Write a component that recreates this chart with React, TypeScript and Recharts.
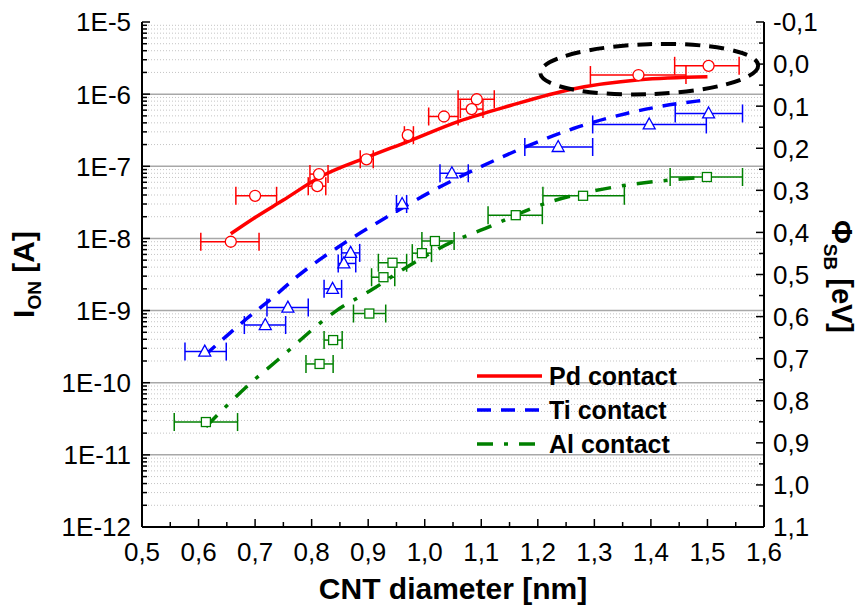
import { ComposedChart, Line, Scatter, ErrorBar, XAxis, YAxis, ReferenceLine, ReferenceDot, Legend, Label } from 'recharts';

const FONT = '"Liberation Sans", Arial, Helvetica, sans-serif';
const RED = '#ff0000';
const BLUE = '#0000ff';
const GREEN = '#008000';

// Pd contacts: CNT diameter [nm], on-current [A], diameter spread (min / max)
const pdDiameter = [0.657, 0.700, 0.810, 0.813, 0.897, 0.970, 1.034, 1.083, 1.092, 1.378, 1.502];
const pdCurrent = [9.0e-9, 3.9e-8, 5.3e-8, 7.8e-8, 1.25e-7, 2.7e-7, 4.9e-7, 6.2e-7, 8.5e-7, 1.84e-6, 2.47e-6];
const pdDMin = [0.604, 0.666, 0.794, 0.797, 0.886, 0.964, 1.007, 1.063, 1.059, 1.293, 1.442];
const pdDMax = [0.707, 0.738, 0.825, 0.829, 0.909, 0.980, 1.059, 1.103, 1.123, 1.462, 1.556];

// Ti contacts
const tiDiameter = [0.611, 0.718, 0.758, 0.837, 0.857, 0.869, 0.960, 1.048, 1.236, 1.397, 1.502];
const tiCurrent = [2.7e-10, 6.3e-10, 1.1e-9, 2.0e-9, 4.5e-9, 6.3e-9, 3.0e-8, 8.0e-8, 1.85e-7, 3.8e-7, 5.4e-7];
const tiDMin = [0.576, 0.681, 0.721, 0.822, 0.847, 0.853, 0.950, 1.027, 1.177, 1.297, 1.443];
const tiDMax = [0.649, 0.754, 0.794, 0.853, 0.878, 0.885, 0.968, 1.077, 1.297, 1.498, 1.562];

// Al contacts
const alDiameter = [0.613, 0.814, 0.838, 0.902, 0.927, 0.943, 0.995, 1.018, 1.161, 1.280, 1.499];
const alCurrent = [2.85e-11, 1.82e-10, 3.9e-10, 9.1e-10, 2.9e-9, 4.6e-9, 6.25e-9, 9.2e-9, 2.1e-8, 3.9e-8, 7.1e-8];
const alDMin = [0.557, 0.790, 0.822, 0.874, 0.906, 0.918, 0.978, 0.995, 1.112, 1.209, 1.434];
const alDMax = [0.669, 0.838, 0.854, 0.931, 0.947, 0.968, 1.012, 1.052, 1.208, 1.353, 1.562];

// fitted curves
const pdFitD = [0.657, 0.700, 0.750, 0.815, 0.900, 0.970, 1.060, 1.150, 1.260, 1.380, 1.500];
const pdFitI = [1.16e-8, 1.95e-8, 3.4e-8, 7.1e-8, 1.35e-7, 2.2e-7, 4.2e-7, 6.9e-7, 1.17e-6, 1.58e-6, 1.74e-6];
const tiFitD = [0.611, 0.685, 0.732, 0.773, 0.874, 0.933, 1.021, 1.086, 1.174, 1.263, 1.357, 1.481, 1.500];
const tiFitI = [2.4e-10, 7.7e-10, 1.53e-9, 2.9e-9, 1.04e-8, 1.98e-8, 4.9e-8, 8.8e-8, 1.8e-7, 3.34e-7, 5.4e-7, 8.0e-7, 8.3e-7];
const alFitD = [0.613, 0.697, 0.738, 0.844, 0.909, 0.968, 1.057, 1.098, 1.221, 1.351, 1.440, 1.520];
const alFitI = [2.45e-11, 1.07e-10, 2.0e-10, 1.0e-9, 2.0e-9, 4.0e-9, 9.6e-9, 1.29e-8, 3.2e-8, 5.4e-8, 6.5e-8, 7.2e-8];

// axis ticks
const dMajor = [0.5, 0.6, 0.7, 0.8, 0.9, 1.0, 1.1, 1.2, 1.3, 1.4, 1.5, 1.6];
const dMinor = [0.55, 0.65, 0.75, 0.85, 0.95, 1.05, 1.15, 1.25, 1.35, 1.45, 1.55];
const decades = [1e-12, 1e-11, 1e-10, 1e-9, 1e-8, 1e-7, 1e-6, 1e-5];
const mantissas = [2, 3, 4, 5, 6, 7, 8, 9];
const phiMajor = [-0.1, 0, 0.1, 0.2, 0.3, 0.4, 0.5, 0.6, 0.7, 0.8, 0.9, 1.0, 1.1];
const phiMinor = [-0.05, 0.05, 0.15, 0.25, 0.35, 0.45, 0.55, 0.65, 0.75, 0.85, 0.95, 1.05];

// highlighted region around the largest diameters
const ringCenterD = 1.397;
const ringCenterI = 2.22e-6;

const legendItems = [
  { name: 'Pd contact', color: RED, dash: undefined },
  { name: 'Ti contact', color: BLUE, dash: '14 10' },
  { name: 'Al contact', color: GREEN, dash: '16 11 4 11' },
];

const toPoints = (d: number[], i: number[], lo: number[], hi: number[]) =>
  d.map((x, k) => ({ d: x, i: i[k], dErr: [x - lo[k], hi[k] - x] }));
const toCurve = (d: number[], i: number[]) => d.map((x, k) => ({ d: x, i: i[k] }));

const pdPoints = toPoints(pdDiameter, pdCurrent, pdDMin, pdDMax);
const tiPoints = toPoints(tiDiameter, tiCurrent, tiDMin, tiDMax);
const alPoints = toPoints(alDiameter, alCurrent, alDMin, alDMax);
const pdFit = toCurve(pdFitD, pdFitI);
const tiFit = toCurve(tiFitD, tiFitI);
const alFit = toCurve(alFitD, alFitI);

const logMinor = decades.slice(0, -1).flatMap((p) => mantissas.map((m) => m * p));
const logTicks = [...decades, ...logMinor];
const dTicks = [...dMajor, ...dMinor];
const phiTicks = [...phiMajor, ...phiMinor];

const comma = (v: number) => v.toFixed(1).replace('.', ',');
const isDecade = (v: number) => Math.abs(Math.log10(v) - Math.round(Math.log10(v))) < 1e-6;

const MAJOR = 8;
const MINOR = 5;

const BottomTick = (props: any) => {
  const { x, y, payload } = props;
  const v = payload.value;
  const major = dMajor.includes(v);
  const axisY = y - 16;
  return (
    <g>
      <line x1={x} x2={x} y1={axisY} y2={axisY - (major ? MAJOR : MINOR)} stroke="#000" strokeWidth={1.5} />
      {major && (
        <text x={x} y={y} dy="0.71em" textAnchor="middle" fontSize={26} fontFamily={FONT} fill="#000">
          {comma(v)}
        </text>
      )}
    </g>
  );
};

const TopTick = (props: any) => {
  const { x, y, payload } = props;
  const major = dMajor.includes(payload.value);
  return <line x1={x} x2={x} y1={y} y2={y + (major ? MAJOR : MINOR)} stroke="#000" strokeWidth={1.5} />;
};

const LeftTick = (props: any) => {
  const { x, y, payload } = props;
  const v = payload.value;
  const major = isDecade(v);
  const axisX = x + 11;
  return (
    <g>
      <line x1={axisX} x2={axisX + (major ? MAJOR : MINOR)} y1={y} y2={y} stroke="#000" strokeWidth={1.5} />
      {major && (
        <text x={x} y={y} dy="0.36em" textAnchor="end" fontSize={26} fontFamily={FONT} fill="#000">
          {`1E${Math.round(Math.log10(v))}`}
        </text>
      )}
    </g>
  );
};

const RightTick = (props: any) => {
  const { x, y, payload } = props;
  const v = payload.value;
  const major = phiMajor.includes(v);
  const axisX = x - 9;
  return (
    <g>
      <line x1={axisX} x2={axisX - (major ? MAJOR : MINOR)} y1={y} y2={y} stroke="#000" strokeWidth={1.5} />
      {major && (
        <text x={x} y={y} dy="0.36em" textAnchor="start" fontSize={26} fontFamily={FONT} fill="#000">
          {comma(v)}
        </text>
      )}
    </g>
  );
};

const circleShape = (color: string) => (p: any) => (
  <circle cx={p.cx} cy={p.cy} r={5.5} fill="#fff" stroke={color} strokeWidth={1.3} />
);
const triangleShape = (color: string) => (p: any) => (
  <path
    d={`M${p.cx},${p.cy - 6.5} L${p.cx + 6},${p.cy + 4.5} L${p.cx - 6},${p.cy + 4.5} Z`}
    fill="#fff"
    stroke={color}
    strokeWidth={1.3}
  />
);
const squareShape = (color: string) => (p: any) => (
  <rect x={p.cx - 4.5} y={p.cy - 4.5} width={9} height={9} fill="#fff" stroke={color} strokeWidth={1.3} />
);

const Ring = (p: any) => (
  <ellipse
    cx={p.cx}
    cy={p.cy}
    rx={109}
    ry={25}
    transform={`rotate(-2 ${p.cx} ${p.cy})`}
    fill="none"
    stroke="#000"
    strokeWidth={4}
    strokeDasharray="15 9"
  />
);

const LegendBox = () => (
  <div style={{ fontFamily: FONT, fontWeight: 'bold', fontSize: 25, color: '#000' }}>
    {legendItems.map((it) => (
      <div key={it.name} style={{ display: 'flex', alignItems: 'center', height: 34 }}>
        <svg width={66} height={8} style={{ marginRight: 6 }}>
          <line x1={0} x2={65} y1={4} y2={4} stroke={it.color} strokeWidth={3.5} strokeDasharray={it.dash} />
        </svg>
        <span>{it.name}</span>
      </div>
    ))}
  </div>
);

const YLeftTitle = (props: any) => {
  const { viewBox } = props;
  const cy = viewBox.y + viewBox.height / 2;
  const cx = 34;
  return (
    <text
      x={cx}
      y={cy}
      transform={`rotate(-90 ${cx} ${cy})`}
      textAnchor="middle"
      fontFamily={FONT}
      fontWeight="bold"
      fontSize={30}
      fill="#000"
    >
      I
      <tspan fontSize={19} dy={7}>ON</tspan>
      <tspan dy={-7}> [A]</tspan>
    </text>
  );
};

const YRightTitle = (props: any) => {
  const { viewBox } = props;
  const cy = viewBox.y + viewBox.height / 2 + 2;
  const cx = viewBox.x + 68;
  return (
    <text
      x={cx}
      y={cy}
      transform={`rotate(90 ${cx} ${cy})`}
      textAnchor="middle"
      fontFamily={FONT}
      fontWeight="bold"
      fontSize={29}
      fill="#000"
    >
      Φ
      <tspan fontSize={19} dy={8}>SB</tspan>
      <tspan dy={-8}> [eV]</tspan>
    </text>
  );
};

const XTitle = (props: any) => {
  const { viewBox } = props;
  return (
    <text
      x={viewBox.x + viewBox.width / 2}
      y={viewBox.y + 72}
      textAnchor="middle"
      fontFamily={FONT}
      fontWeight="bold"
      fontSize={30}
      fill="#000"
    >
      CNT diameter [nm]
    </text>
  );
};

export default function App() {
  return (
    <div style={{ position: 'absolute', left: 0, top: 0, background: '#fff', fontFamily: FONT }}>
      <ComposedChart width={861} height={610} margin={{ top: 22, right: 0, bottom: 0, left: 0 }}>
        <XAxis
          dataKey="d"
          type="number"
          domain={[0.5, 1.6]}
          allowDataOverflow
          ticks={dTicks}
          interval={0}
          height={83}
          tickSize={0}
          tickMargin={16}
          tickLine={false}
          tick={BottomTick}
          axisLine={{ stroke: '#000', strokeWidth: 2 }}
        >
          <Label content={XTitle} />
        </XAxis>
        <XAxis
          xAxisId="top"
          orientation="top"
          type="number"
          domain={[0.5, 1.6]}
          allowDataOverflow
          ticks={dTicks}
          interval={0}
          height={0}
          tickSize={0}
          tickMargin={0}
          tickLine={false}
          tick={TopTick}
          axisLine={{ stroke: '#000', strokeWidth: 2 }}
        />
        <YAxis
          yAxisId="left"
          dataKey="i"
          scale="log"
          type="number"
          domain={[1e-12, 1e-5]}
          allowDataOverflow
          ticks={logTicks}
          interval={0}
          width={142}
          tickSize={0}
          tickMargin={11}
          tickLine={false}
          tick={LeftTick}
          axisLine={{ stroke: '#000', strokeWidth: 2 }}
        >
          <Label content={YLeftTitle} />
        </YAxis>
        <YAxis
          yAxisId="right"
          orientation="right"
          type="number"
          domain={[-0.1, 1.1]}
          reversed
          allowDataOverflow
          ticks={phiTicks}
          interval={0}
          width={97}
          tickSize={0}
          tickMargin={9}
          tickLine={false}
          tick={RightTick}
          axisLine={{ stroke: '#000', strokeWidth: 2 }}
        >
          <Label content={YRightTitle} />
        </YAxis>

        {/* horizontal grid: dotted minor decades, solid grey majors */}
        {logMinor.map((v) => (
          <ReferenceLine key={`m${v}`} y={v} yAxisId="left" stroke="#c4c4c4" strokeDasharray="1 2" />
        ))}
        {decades.slice(1, -1).map((v) => (
          <ReferenceLine key={`M${v}`} y={v} yAxisId="left" stroke="#a8a8a8" strokeWidth={1.5} />
        ))}

        <Scatter data={pdPoints} dataKey="i" yAxisId="left" shape={circleShape(RED)} isAnimationActive={false} legendType="none">
          <ErrorBar dataKey="dErr" direction="x" width={9} stroke={RED} strokeWidth={1.5} isAnimationActive={false} />
        </Scatter>
        <Scatter data={tiPoints} dataKey="i" yAxisId="left" shape={triangleShape(BLUE)} isAnimationActive={false} legendType="none">
          <ErrorBar dataKey="dErr" direction="x" width={9} stroke={BLUE} strokeWidth={1.5} isAnimationActive={false} />
        </Scatter>
        <Scatter data={alPoints} dataKey="i" yAxisId="left" shape={squareShape(GREEN)} isAnimationActive={false} legendType="none">
          <ErrorBar dataKey="dErr" direction="x" width={9} stroke={GREEN} strokeWidth={1.5} isAnimationActive={false} />
        </Scatter>

        <Line data={pdFit} dataKey="i" yAxisId="left" type="monotone" stroke={RED} strokeWidth={3.5} dot={false} activeDot={false} isAnimationActive={false} />
        <Line data={tiFit} dataKey="i" yAxisId="left" type="monotone" stroke={BLUE} strokeWidth={3.5} strokeDasharray="14 10" dot={false} activeDot={false} isAnimationActive={false} />
        <Line data={alFit} dataKey="i" yAxisId="left" type="monotone" stroke={GREEN} strokeWidth={3.5} strokeDasharray="16 11 4 11" dot={false} activeDot={false} isAnimationActive={false} />

        <ReferenceDot x={ringCenterD} y={ringCenterI} yAxisId="left" shape={Ring} />

        <Legend
          layout="vertical"
          align="center"
          verticalAlign="middle"
          wrapperStyle={{ position: 'absolute', left: 477, top: 359, width: 'auto', height: 'auto' }}
          content={LegendBox}
        />
      </ComposedChart>
    </div>
  );
}
